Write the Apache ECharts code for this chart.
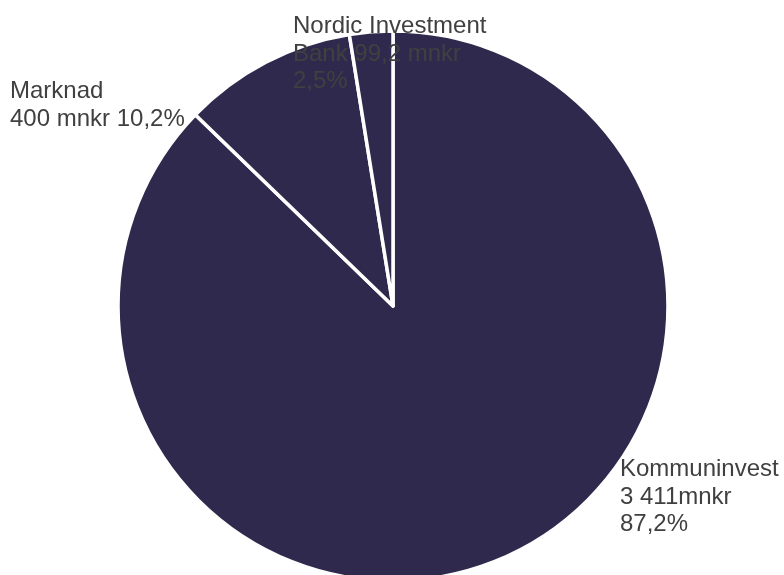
<!DOCTYPE html>
<html>
<head>
<meta charset="utf-8">
<script src="https://cdn.jsdelivr.net/npm/echarts@6/dist/echarts.min.js"></script>
<style>html,body{margin:0;padding:0;background:#fff}#c{width:784px;height:575px}</style>
</head>
<body>
<div id="c"></div>
<script>
const categories = ['Kommuninvest', 'Marknad', 'Nordic Investment Bank'];
const values = [3411, 400, 99.2];
const labelTexts = [
  'Kommuninvest\n3 411mnkr\n87,2%',
  'Marknad\n400 mnkr 10,2%',
  'Nordic Investment\nBank 99,2 mnkr\n2,5%'
];
const labelPos = [[620, 456], [10, 78], [293, 13]];

const chart = echarts.init(document.getElementById('c'), null, {renderer: 'canvas'});
chart.setOption({
  animation: false,
  backgroundColor: '#ffffff',
  series: [{
    type: 'pie',
    center: [393, 306],
    radius: 275,
    startAngle: 90,
    clockwise: true,
    avoidLabelOverlap: false,
    data: categories.map((c, i) => ({name: c, value: values[i]})),
    itemStyle: {color: '#2f2a4d', borderColor: '#ffffff', borderWidth: 3.5},
    label: {
      show: true,
      position: 'outside',
      formatter: p => labelTexts[p.dataIndex],
      color: '#404040',
      fontFamily: 'Liberation Sans, Arial, sans-serif',
      fontSize: 24,
      lineHeight: 27.5,
      align: 'left'
    },
    labelLine: {show: false},
    labelLayout: p => ({
      x: labelPos[p.dataIndex][0],
      y: labelPos[p.dataIndex][1],
      align: 'left',
      verticalAlign: 'top'
    }),
    emphasis: {disabled: true}
  }]
});
</script>
</body>
</html>
